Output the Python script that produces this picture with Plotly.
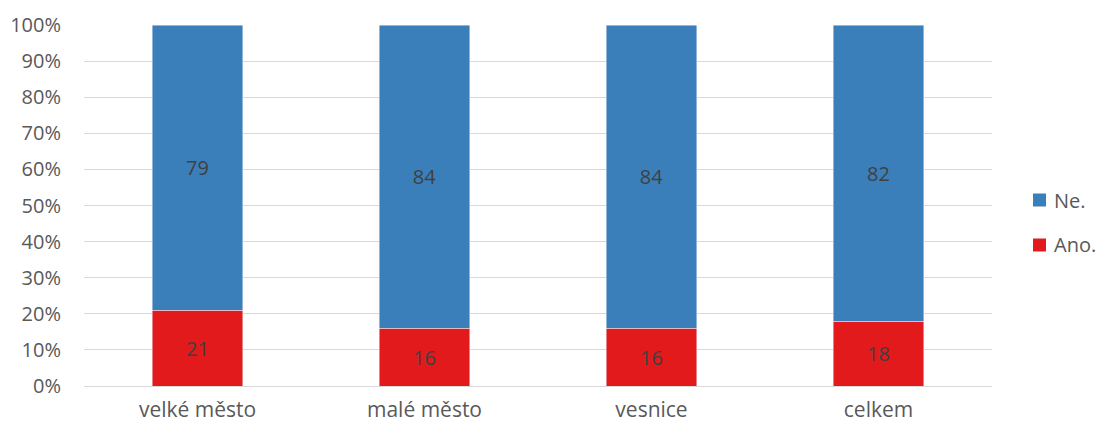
import plotly.graph_objects as go

categories = ["velké město", "malé město", "vesnice", "celkem"]
ano = [21, 16, 16, 18]
ne = [79, 84, 84, 82]
y_ticks = [0, 10, 20, 30, 40, 50, 60, 70, 80, 90, 100]
series_names = ["Ne.", "Ano."]
series_colors = ["#3a7fba", "#e31a1c"]

FONT = "Open Sans"
FS = 20
TXT = "#595959"

fig = go.Figure()
fig.add_trace(go.Bar(
    x=categories, y=ano, name=series_names[1], marker_color=series_colors[1],
    text=[str(v) for v in ano], textposition="inside", insidetextanchor="middle",
    textfont=dict(color="#404040", size=FS, family=FONT), hoverinfo="skip",
    showlegend=False,
))
fig.add_trace(go.Bar(
    x=categories, y=ne, name=series_names[0], marker_color=series_colors[0],
    text=[str(v) for v in ne], textposition="inside", insidetextanchor="middle",
    textfont=dict(color="#404040", size=FS, family=FONT), hoverinfo="skip",
    showlegend=False,
))

# legend drawn as paper-positioned shapes + text
PLOT_L, PLOT_W, PLOT_B, PLOT_H = 84, 908, 386, 361
def px(x):
    return (x - PLOT_L) / PLOT_W
def py(y):
    return (PLOT_B - y) / PLOT_H

legend_rows_y = [200, 245]
shapes, annotations = [], []
for name, color, yc in zip(series_names, series_colors, legend_rows_y):
    shapes.append(dict(type="rect", xref="paper", yref="paper",
                       x0=px(1033), x1=px(1046), y0=py(yc + 6.5), y1=py(yc - 6.5),
                       fillcolor=color, line=dict(width=0)))
    annotations.append(dict(xref="paper", yref="paper", x=px(1052), y=py(yc),
                            xanchor="left", yanchor="middle", text=name, showarrow=False,
                            font=dict(size=FS, color=TXT, family=FONT)))

fig.update_layout(
    barmode="stack",
    bargap=0.6,
    width=1098, height=425,
    margin=dict(l=84, r=106, t=25, b=39, autoexpand=False),
    paper_bgcolor="white", plot_bgcolor="white",
    font=dict(family=FONT, color=TXT, size=FS),
    shapes=shapes, annotations=annotations,
    uniformtext=dict(minsize=FS, mode="show"),
)
fig.update_yaxes(
    range=[0, 100], tickvals=y_ticks, ticktext=[f"{v}%" for v in y_ticks],
    showgrid=True, gridcolor="#d9d9d9", gridwidth=1,
    zeroline=False, showline=False, ticks="",
    ticklabelstandoff=22,
    tickfont=dict(size=FS, color=TXT, family=FONT),
)
fig.update_xaxes(
    showline=True, linecolor="#d9d9d9", linewidth=1, ticks="",
    ticklabelstandoff=5,
    tickfont=dict(size=21, color=TXT, family=FONT),
)

fig.write_html(
    "out.html",
    config={"displayModeBar": False},
    post_script="document.body.style.margin='0';document.body.style.overflow='hidden';",
)
